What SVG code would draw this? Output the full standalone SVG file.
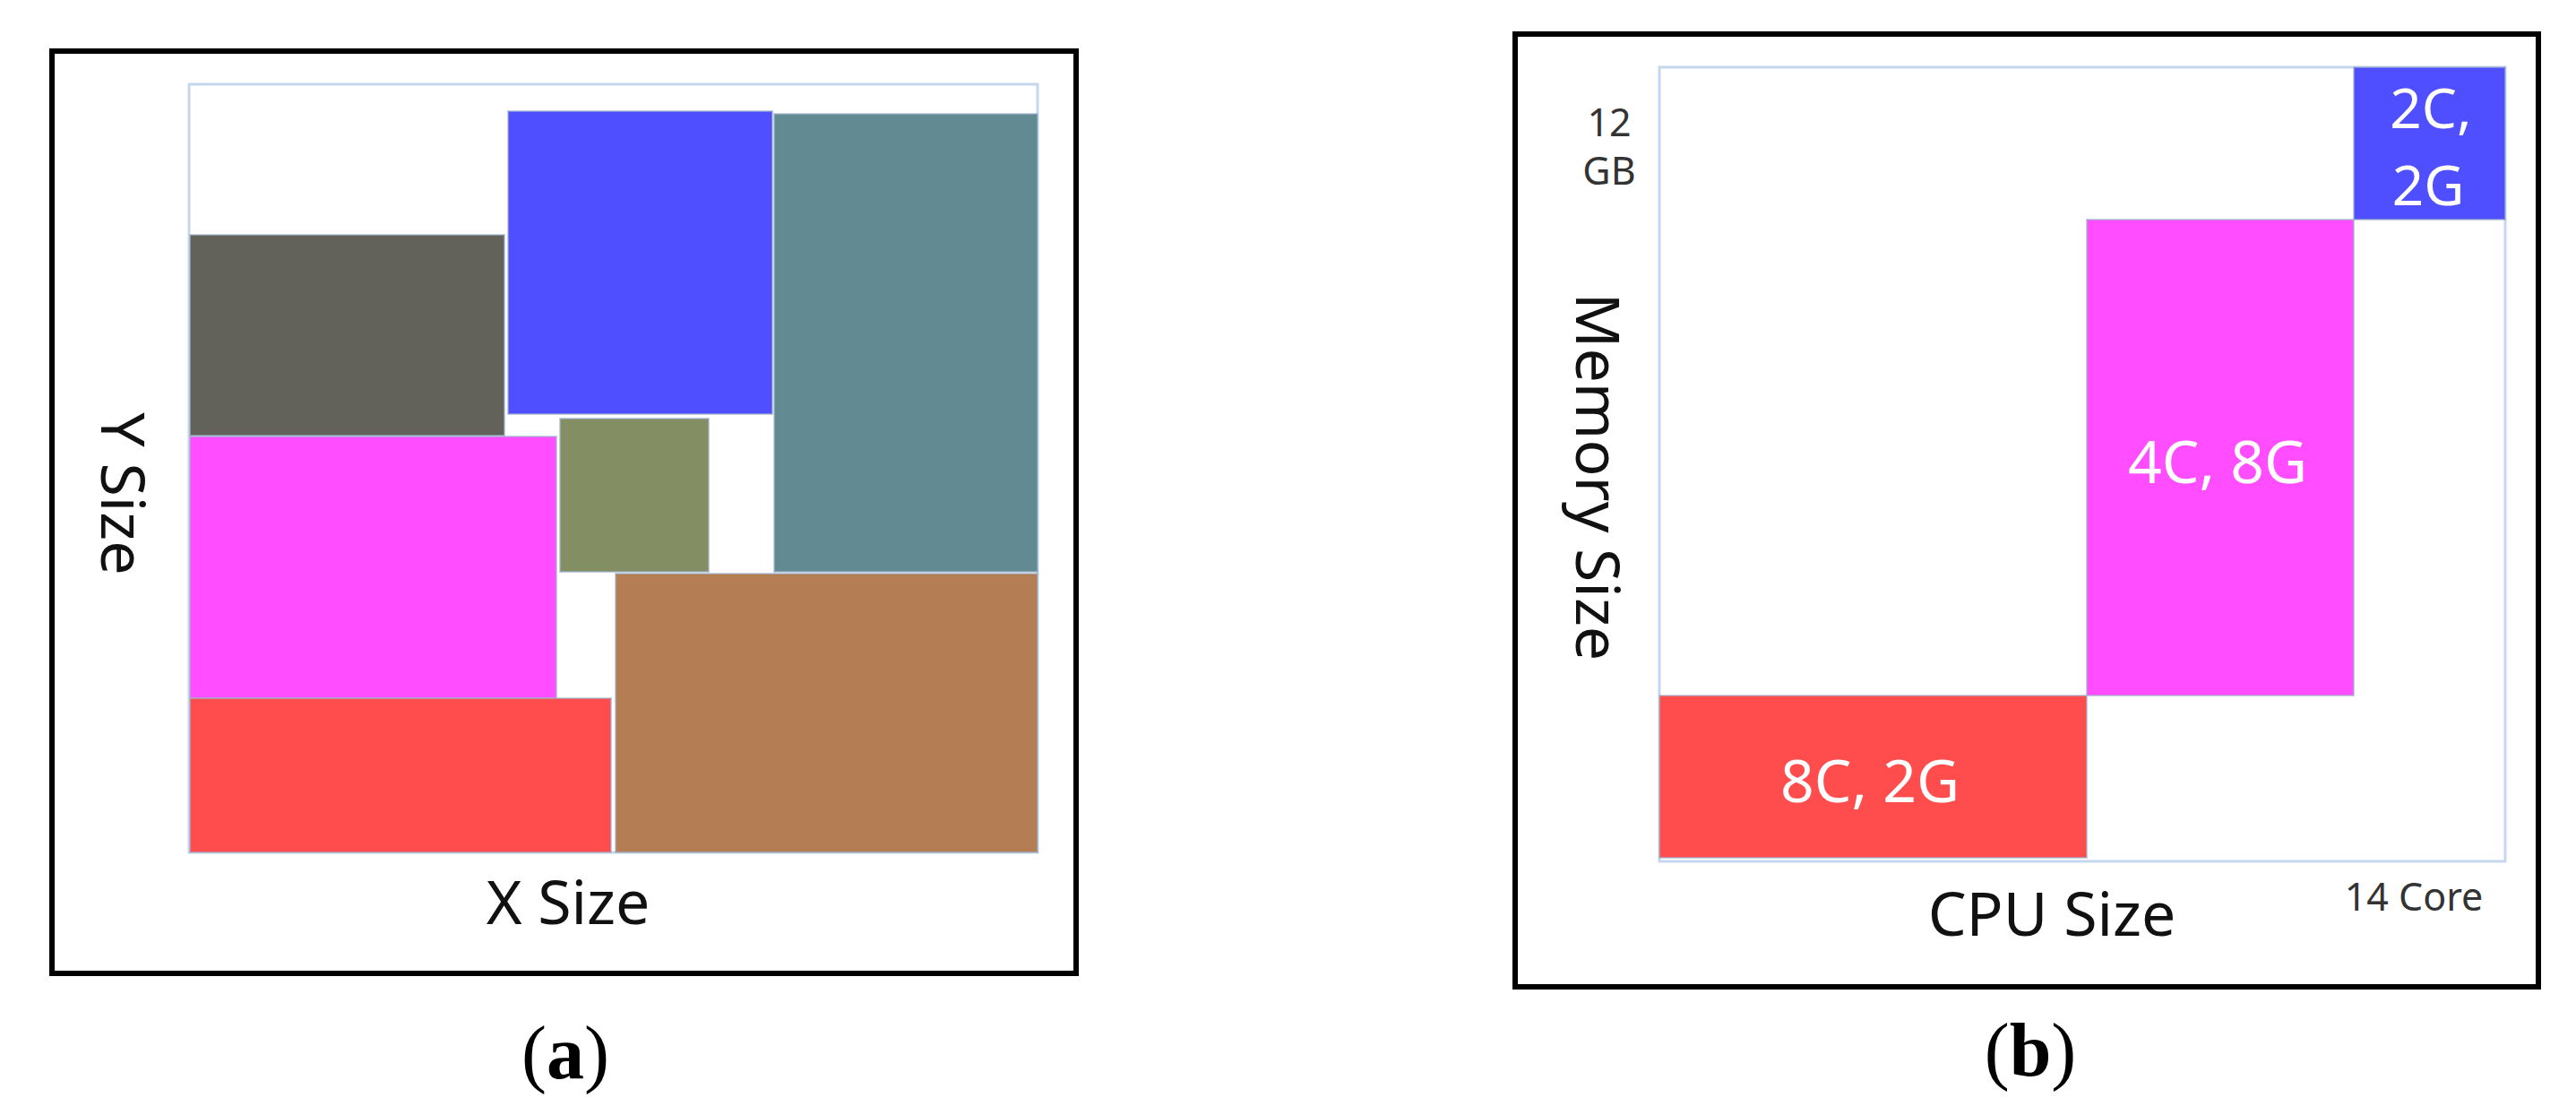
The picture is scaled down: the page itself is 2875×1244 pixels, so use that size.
<svg xmlns="http://www.w3.org/2000/svg" width="2875" height="1244" viewBox="0 0 2875 1244">
<style>
.frame{fill:none;stroke:#000;stroke-width:6}
.area{fill:#fff;stroke:#c5d7ee;stroke-width:3}
.blk{stroke:#9fb3cc;stroke-width:2;stroke-opacity:0.6}
.axis{font-family:"Noto Sans","Open Sans",sans-serif;font-size:68px;fill:#111}
.small{font-family:"Noto Sans","Open Sans",sans-serif;font-size:43px;fill:#333}
.inner{font-family:"Noto Sans","Open Sans",sans-serif;font-size:66px;fill:#fff}
.inner-s{font-family:"Noto Sans","Open Sans",sans-serif;font-size:62px;fill:#fff}
.cap{font-family:"Liberation Serif","Times New Roman",serif;font-size:84px;fill:#000}
</style>
<rect width="2875" height="1244" fill="#fff"/>

<g id="panel-a">
  <rect class="frame" x="58" y="57" width="1143" height="1029"/>
  <rect class="area" x="211" y="94" width="947" height="857"/>
  <g id="a-gray"><rect class="blk" x="212" y="262" width="351" height="224" fill="#62625a"/></g>
  <g id="a-blue"><rect class="blk" x="567" y="124" width="295" height="338" fill="#4f4fff"/></g>
  <g id="a-teal"><rect class="blk" x="864" y="127" width="294" height="511" fill="#628a93"/></g>
  <g id="a-olive"><rect class="blk" x="625" y="467" width="166" height="171" fill="#838e63"/></g>
  <g id="a-magenta"><rect class="blk" x="212" y="487" width="409" height="292" fill="#ff4dff"/></g>
  <g id="a-brown"><rect class="blk" x="687" y="640" width="471" height="311" fill="#b57d53"/></g>
  <g id="a-red"><rect class="blk" x="212" y="779" width="470" height="172" fill="#ff4d4d"/></g>
  <text class="axis" transform="translate(113,551) rotate(90)" text-anchor="middle">Y Size</text>
  <text class="axis" x="634" y="1031" text-anchor="middle">X Size</text>
  <text class="cap" x="631" y="1203" text-anchor="middle">(<tspan font-weight="bold">a</tspan>)</text>
</g>

<g id="panel-b">
  <rect class="frame" x="1691" y="38" width="1142" height="1063"/>
  <rect class="area" x="1852" y="75" width="944" height="886"/>
  <g id="b-red">
    <rect class="blk" x="1852" y="776" width="477" height="181" fill="#ff4d4d"/>
    <text class="inner" x="2087" y="895" text-anchor="middle">8C, 2G</text>
  </g>
  <g id="b-magenta">
    <rect class="blk" x="2329" y="245" width="298" height="531" fill="#ff4dff"/>
    <text class="inner" x="2475" y="539" text-anchor="middle">4C, 8G</text>
  </g>
  <g id="b-blue">
    <rect class="blk" x="2627" y="75" width="169" height="170" fill="#4f4fff"/>
    <text class="inner-s" x="2713" y="143" text-anchor="middle">2C,</text>
    <text class="inner-s" x="2710" y="229" text-anchor="middle">2G</text>
  </g>
  <text class="small" x="1796" y="152" text-anchor="middle">12</text>
  <text class="small" x="1796" y="206" text-anchor="middle">GB</text>
  <text class="axis" transform="translate(1759,532) rotate(90)" text-anchor="middle">Memory Size</text>
  <text class="axis" x="2290" y="1044" text-anchor="middle">CPU Size</text>
  <text class="small" x="2694" y="1016" text-anchor="middle">14 Core</text>
  <text class="cap" x="2266" y="1200" text-anchor="middle">(<tspan font-weight="bold">b</tspan>)</text>
</g>
</svg>
